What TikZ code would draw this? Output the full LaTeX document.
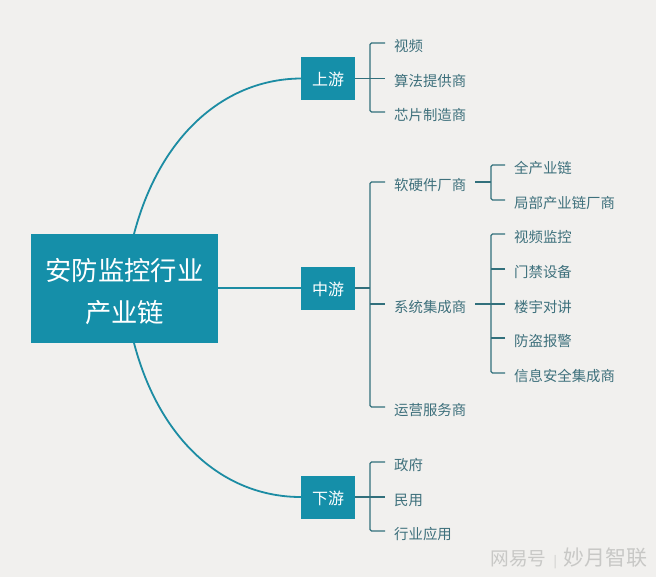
\documentclass[tikz,border=0pt]{standalone}
\usepackage{fontspec}
\setmainfont{Noto Sans CJK SC}
\definecolor{paperGray}{RGB}{241, 240, 238}
\definecolor{boxTeal}{RGB}{21, 143, 169}
\definecolor{lineTeal}{RGB}{28, 140, 163}
\definecolor{stemTeal}{RGB}{50, 112, 124}
\definecolor{leafTeal}{RGB}{62, 112, 124}
\definecolor{markGray}{RGB}{200, 200, 198}
\tikzset{
  rootbox/.style={fill=boxTeal,text=white,minimum width=187pt,minimum height=109pt,align=center,inner sep=0pt,font=\fontsize{26.3}{42}\selectfont},
  stagebox/.style={fill=boxTeal,text=white,minimum width=54pt,minimum height=43pt,inner sep=0pt,text height=16pt,text depth=2pt,font=\fontsize{16}{18}\selectfont},
  leaf/.style={anchor=west,text=leafTeal,inner xsep=9pt,inner ysep=0pt,text height=17pt,text depth=0pt,font=\fontsize{14.4}{16}\selectfont},
  curveline/.style={draw=lineTeal,line width=1.8pt},
  stem/.style={draw=stemTeal,line width=1.2pt,rounded corners=1.5pt}
}
\begin{document}
\begin{tikzpicture}[x=1pt,y=-1pt]
        \useasboundingbox (0,0) rectangle (660,580);
        \fill[white] (0,0) rectangle (660,580);
        \fill[paperGray] (0,0) rectangle (656,577);
        % left side
        \node[rootbox] (root) at (124.5,288.5) {\rule{0pt}{28.5pt}安防监控行业\\产业链};
        \node[stagebox] (up) at (328,78.5) {上游};
        \node[stagebox] (mid) at (328,288) {中游};
        \node[stagebox] (down) at (328,497) {下游};
        \coordinate (rootTop) at (134,234);
        \coordinate (rootBottom) at (134,343);
        \draw[curveline] (rootTop) .. controls (160,135) and (225,79) .. (up.west);
        \draw[curveline] (root.east |- mid.west) -- (mid.west);
        \draw[curveline] (rootBottom) .. controls (160,442) and (225,497) .. (down.west);
        % second level
        \node[leaf] (video) at (385,43) {视频};
        \node[leaf] (algo) at (385,78.5) {算法提供商};
        \node[leaf] (chip) at (385,112) {芯片制造商};
        \node[leaf] (soft) at (385,182) {软硬件厂商};
        \node[leaf] (integ) at (385,304) {系统集成商};
        \node[leaf] (oper) at (385,407) {运营服务商};
        \node[leaf] (gov) at (385,462) {政府};
        \node[leaf] (civil) at (385,497) {民用};
        \node[leaf] (trade) at (385,531) {行业应用};
        % third level
        \node[leaf] (whole) at (505,165) {全产业链};
        \node[leaf] (part) at (505,200) {局部产业链厂商};
        \node[leaf] (monitor) at (505,234) {视频监控};
        \node[leaf] (door) at (505,269) {门禁设备};
        \node[leaf] (talk) at (505,304) {楼宇对讲};
        \node[leaf] (alarm) at (505,338) {防盗报警};
        \node[leaf] (secure) at (505,373) {信息安全集成商};
        % brackets
        \draw[stem] (video.west) -- ++(-15,0) |- (chip.west);
        \draw[stem] (up.east) -- (algo.west);
        \draw[stem] (soft.west) -- ++(-15,0) |- (oper.west);
        \draw[stem] (mid.east) -- ++(15,0);
        \draw[stem] (370,304) -- (integ.west);
        \coordinate (softEnd) at (475,182);
        \coordinate (integEnd) at (475,304);
        \draw[stem] (whole.west) -- ++(-14,0) |- (part.west);
        \draw[stem] (softEnd) -- (491,182);
        \draw[stem] (monitor.west) -- ++(-14,0) |- (secure.west);
        \draw[stem] (integEnd) -- (talk.west);
        \draw[stem] (door.west) -- ++(-14,0);
        \draw[stem] (alarm.west) -- ++(-14,0);
        \draw[stem] (gov.west) -- ++(-15,0) |- (trade.west);
        \draw[stem] (down.east) -- (civil.west);
        % watermark
        \node[anchor=east,text=markGray,inner sep=0pt,font=\fontsize{21}{22}\selectfont] (mark) at (648,558.5) {{\fontsize{18.7}{20}\selectfont 网易号}\hspace{7pt}{\fontsize{12}{12}\selectfont|}\hspace{7pt}妙月智联};
\end{tikzpicture}
\end{document}
